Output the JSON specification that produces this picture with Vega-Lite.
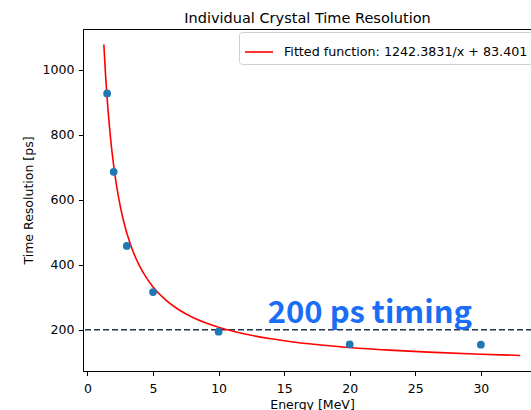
{
  "$schema": "https://vega.github.io/schema/vega-lite/v6.json",
  "width": 449,
  "height": 342,
  "padding": {"left": 83, "top": 29, "right": 0, "bottom": 39},
  "autosize": {"type": "none"},
  "background": "white",
  "title": {
    "text": "Individual Crystal Time Resolution",
    "font": "DejaVu Sans",
    "fontSize": 14.5,
    "fontWeight": "normal",
    "color": "black",
    "anchor": "middle",
    "baseline": "alphabetic",
    "offset": -8
  },
  "config": {
    "view": {"stroke": "black", "strokeWidth": 1},
    "axis": {
      "domainColor": "black",
      "tickColor": "black",
      "labelColor": "black",
      "titleColor": "black",
      "labelFont": "DejaVu Sans",
      "titleFont": "DejaVu Sans",
      "labelFontSize": 12.5,
      "titleFontSize": 12.5,
      "titleFontWeight": "normal",
      "tickSize": 4.6,
      "labelPadding": 3,
      "grid": false
    }
  },
  "datasets": {
    "points": [
      {"energy": 1.5, "resolution": 927},
      {"energy": 2, "resolution": 686},
      {"energy": 3, "resolution": 458},
      {"energy": 5, "resolution": 316},
      {"energy": 10, "resolution": 194},
      {"energy": 20, "resolution": 155},
      {"energy": 30, "resolution": 154}
    ],
    "fit": [
      {"energy": 1.25, "resolution": 1077.31},
      {"energy": 1.375, "resolution": 986.95},
      {"energy": 1.5, "resolution": 911.66},
      {"energy": 1.625, "resolution": 847.94},
      {"energy": 1.75, "resolution": 793.33},
      {"energy": 1.875, "resolution": 746.0},
      {"energy": 2, "resolution": 704.59},
      {"energy": 2.25, "resolution": 635.57},
      {"energy": 2.5, "resolution": 580.35},
      {"energy": 2.75, "resolution": 535.18},
      {"energy": 3, "resolution": 497.53},
      {"energy": 3.5, "resolution": 438.37},
      {"energy": 4, "resolution": 394.0},
      {"energy": 4.5, "resolution": 359.49},
      {"energy": 5, "resolution": 331.88},
      {"energy": 6, "resolution": 290.46},
      {"energy": 7, "resolution": 260.88},
      {"energy": 8, "resolution": 238.7},
      {"energy": 9, "resolution": 221.44},
      {"energy": 10, "resolution": 207.64},
      {"energy": 12, "resolution": 186.93},
      {"energy": 14, "resolution": 172.14},
      {"energy": 16, "resolution": 161.05},
      {"energy": 18, "resolution": 152.42},
      {"energy": 20, "resolution": 145.52},
      {"energy": 23, "resolution": 137.42},
      {"energy": 26, "resolution": 131.18},
      {"energy": 30, "resolution": 124.81},
      {"energy": 33, "resolution": 121.05}
    ],
    "threshold": [{"resolution": 200}],
    "label": [
      {"energy": 13.75, "resolution": 220, "text": "200 ps timing"}
    ]
  },
  "layer": [
    {
      "data": {"name": "threshold"},
      "mark": {"type": "rule", "strokeDash": [6, 3], "strokeWidth": 1.7, "color": "#1f3250"},
      "encoding": {
        "y": {"field": "resolution", "type": "quantitative", "scale": {"domain": [73.2, 1125.1], "nice": false, "zero": false}}
      }
    },
    {
      "data": {"name": "fit"},
      "mark": {"type": "line", "strokeWidth": 1.6, "interpolate": "monotone", "clip": true},
      "encoding": {
        "x": {"field": "energy", "type": "quantitative", "scale": {"domain": [-0.34, 33.9], "nice": false, "zero": false},
              "axis": {"title": "Energy [MeV]", "values": [0, 5, 10, 15, 20, 25, 30], "titleX": 229, "labelPadding": 6.5, "titlePadding": 4}},
        "y": {"field": "resolution", "type": "quantitative", "scale": {"domain": [73.2, 1125.1], "nice": false, "zero": false},
              "axis": {"title": "Time Resolution [ps]", "values": [200, 400, 600, 800, 1000], "format": "d", "labelPadding": 4.5, "titlePadding": 7}},
        "color": {
          "datum": "Fitted function: 1242.3831/x + 83.401",
          "type": "nominal",
          "scale": {"range": ["red"]},
          "legend": {
            "title": null,
            "orient": "none",
            "legendX": 156,
            "legendY": 3,
            "symbolType": "stroke",
            "symbolSize": 784,
            "symbolStrokeWidth": 1.6,
            "labelFont": "DejaVu Sans",
            "labelFontSize": 12.7,
            "labelColor": "black",
            "labelOffset": 10,
            "padding": 5,
            "strokeColor": "#d0d0d0",
            "fillColor": "white",
            "cornerRadius": 3,
            "labelLimit": 400
          }
        }
      }
    },
    {
      "data": {"name": "points"},
      "mark": {"type": "point", "filled": true, "size": 60, "opacity": 1, "color": "#1f77b4"},
      "encoding": {
        "x": {"field": "energy", "type": "quantitative"},
        "y": {"field": "resolution", "type": "quantitative"}
      }
    },
    {
      "data": {"name": "label"},
      "mark": {"type": "text", "align": "left", "baseline": "alphabetic", "font": "Noto Sans CJK JP", "fontWeight": "bold", "fontSize": 31, "color": "#1a6ef5"},
      "encoding": {
        "x": {"field": "energy", "type": "quantitative"},
        "y": {"field": "resolution", "type": "quantitative"},
        "text": {"field": "text"}
      }
    }
  ]
}
